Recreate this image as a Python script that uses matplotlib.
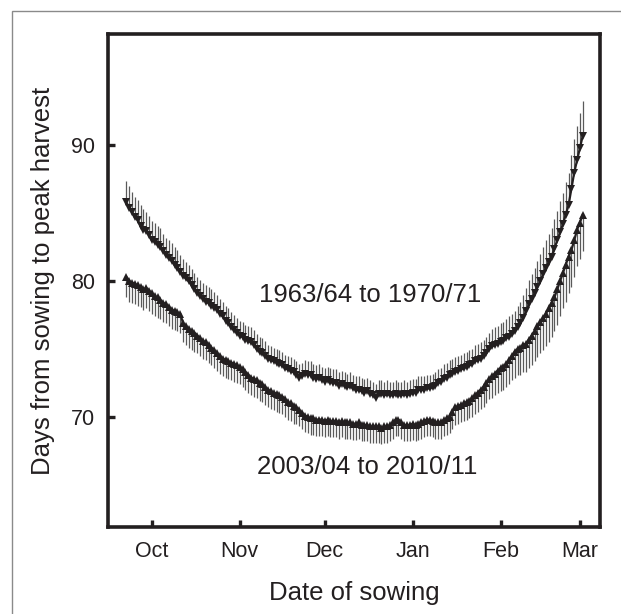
import numpy as np
import matplotlib
matplotlib.use("Agg")
import matplotlib.pyplot as plt
from matplotlib.patches import Rectangle

plt.rcParams['font.family'] = ['Liberation Sans', 'DejaVu Sans']

# sowing day, counted from 1 October (day -9 = 22 Sep ... day 152 = 2 Mar)
first_day = -9

# 1963/64 to 1970/71, daily means
old_days = [
    85.8, 85.4, 85.1, 84.7, 84.5, 84.1, 83.8, 83.7, 83.4, 83.0,
    82.9, 82.7, 82.5, 82.2, 81.9, 81.7, 81.5, 81.2, 81.0, 80.7,
    80.4, 80.2, 80.0, 79.7, 79.4, 79.1, 78.9, 78.7, 78.5, 78.4,
    78.2, 78.0, 77.9, 77.6, 77.4, 77.1, 76.9, 76.6, 76.4, 76.2,
    76.0, 75.9, 75.7, 75.6, 75.5, 75.3, 75.0, 74.8, 74.7, 74.5,
    74.3, 74.2, 74.1, 74.0, 73.9, 73.8, 73.6, 73.5, 73.4, 73.3,
    73.1, 72.9, 73.0, 73.2, 73.1, 73.1, 72.9, 72.8, 72.9, 72.7,
    72.6, 72.7, 72.6, 72.5, 72.5, 72.3, 72.4, 72.3, 72.2, 72.3,
    72.1, 72.0, 72.0, 71.9, 71.8, 71.9, 71.7, 71.6, 71.4, 71.7,
    71.7, 71.6, 71.7, 71.6, 71.6, 71.7, 71.6, 71.6, 71.7, 71.6,
    71.7, 71.8, 71.8, 72.0, 72.0, 72.0, 72.1, 72.1, 72.2, 72.3,
    72.5, 72.6, 72.8, 72.9, 73.1, 73.2, 73.3, 73.4, 73.5, 73.6,
    73.7, 73.8, 73.9, 74.1, 74.2, 74.3, 74.5, 74.7, 75.0, 75.2,
    75.3, 75.4, 75.5, 75.6, 75.8, 75.9, 76.1, 76.3, 76.6, 76.9,
    77.3, 77.8, 78.3, 78.7, 79.1, 79.6, 80.0, 80.5, 81.0, 81.4,
    81.8, 82.4, 83.0, 83.6, 84.2, 84.9, 85.6, 86.8, 88.0, 88.9,
    89.8, 90.7,
]
old_err = [
    1.6, 1.6, 1.5, 1.5, 1.5, 1.5, 1.5, 1.4, 1.4, 1.4,
    1.4, 1.4, 1.4, 1.3, 1.3, 1.3, 1.3, 1.3, 1.3, 1.2,
    1.2, 1.2, 1.2, 1.2, 1.2, 1.2, 1.2, 1.2, 1.2, 1.2,
    1.2, 1.2, 1.1, 1.1, 1.1, 1.1, 1.1, 1.1, 1.1, 1.1,
    1.1, 1.1, 1.1, 1.1, 1.1, 1.1, 1.1, 1.1, 1.1, 1.1,
    1.0, 1.0, 1.0, 1.0, 1.0, 1.0, 1.0, 1.0, 1.0, 1.0,
    1.0, 1.0, 1.0, 1.0, 1.0, 1.0, 1.0, 1.0, 1.0, 1.0,
    1.0, 1.0, 1.0, 1.0, 1.0, 1.0, 1.0, 1.0, 1.0, 1.0,
    1.0, 1.0, 1.0, 1.0, 1.0, 1.0, 1.0, 1.0, 1.0, 1.0,
    1.0, 1.0, 1.0, 1.0, 1.0, 1.0, 1.0, 1.0, 1.0, 1.0,
    1.0, 1.0, 1.0, 1.0, 1.0, 1.0, 1.0, 1.0, 1.0, 1.0,
    1.0, 1.0, 1.1, 1.1, 1.1, 1.1, 1.1, 1.1, 1.1, 1.1,
    1.1, 1.1, 1.1, 1.2, 1.2, 1.2, 1.2, 1.2, 1.2, 1.3,
    1.3, 1.3, 1.4, 1.4, 1.4, 1.5, 1.5, 1.5, 1.6, 1.6,
    1.7, 1.7, 1.8, 1.8, 1.9, 1.9, 2.0, 2.0, 2.0, 2.1,
    2.1, 2.2, 2.2, 2.3, 2.3, 2.4, 2.4, 2.5, 2.5, 2.5,
    2.6, 2.6,
]

# 2003/04 to 2010/11, daily means
new_days = [
    80.3, 80.0, 79.9, 79.8, 79.7, 79.6, 79.4, 79.5, 79.3, 79.1,
    78.9, 78.8, 78.6, 78.4, 78.3, 78.1, 77.9, 77.8, 77.7, 77.6,
    76.9, 76.7, 76.5, 76.3, 76.2, 76.0, 75.8, 75.6, 75.5, 75.3,
    75.1, 74.9, 74.7, 74.5, 74.3, 74.2, 74.1, 74.0, 73.9, 73.8,
    73.7, 73.5, 73.3, 73.1, 72.9, 72.8, 72.7, 72.5, 72.4, 72.2,
    72.0, 71.9, 71.8, 71.7, 71.6, 71.5, 71.3, 71.1, 71.0, 70.8,
    70.7, 70.5, 70.3, 70.1, 70.0, 69.9, 69.9, 69.8, 69.8, 69.8,
    69.7, 69.8, 69.7, 69.7, 69.7, 69.6, 69.7, 69.6, 69.6, 69.6,
    69.5, 69.5, 69.6, 69.4, 69.4, 69.4, 69.3, 69.3, 69.3, 69.3,
    69.2, 69.3, 69.3, 69.4, 69.6, 69.8, 69.8, 69.6, 69.4, 69.4,
    69.4, 69.5, 69.4, 69.5, 69.6, 69.7, 69.8, 69.8, 69.7, 69.6,
    69.6, 69.6, 69.8, 69.9, 70.0, 70.4, 70.7, 70.8, 70.9, 71.0,
    71.1, 71.2, 71.4, 71.6, 71.8, 72.0, 72.2, 72.5, 72.8, 73.0,
    73.2, 73.4, 73.6, 73.7, 73.9, 74.2, 74.5, 74.8, 75.0, 75.1,
    75.3, 75.4, 75.7, 76.0, 76.3, 76.7, 77.0, 77.3, 77.6, 78.0,
    78.4, 78.8, 79.4, 80.0, 80.6, 81.2, 81.8, 82.3, 83.0, 83.8,
    84.3, 84.9,
]
new_err = [
    1.5, 1.5, 1.5, 1.5, 1.5, 1.5, 1.5, 1.5, 1.5, 1.5,
    1.5, 1.5, 1.4, 1.4, 1.4, 1.4, 1.4, 1.4, 1.4, 1.4,
    1.4, 1.4, 1.4, 1.4, 1.4, 1.3, 1.3, 1.3, 1.3, 1.3,
    1.3, 1.3, 1.3, 1.3, 1.3, 1.3, 1.3, 1.3, 1.3, 1.3,
    1.3, 1.3, 1.3, 1.3, 1.3, 1.3, 1.3, 1.3, 1.3, 1.3,
    1.3, 1.3, 1.3, 1.3, 1.3, 1.3, 1.3, 1.3, 1.3, 1.3,
    1.2, 1.2, 1.2, 1.2, 1.2, 1.2, 1.2, 1.2, 1.2, 1.2,
    1.2, 1.2, 1.2, 1.2, 1.2, 1.2, 1.2, 1.2, 1.2, 1.2,
    1.2, 1.2, 1.2, 1.2, 1.2, 1.2, 1.2, 1.2, 1.2, 1.2,
    1.2, 1.2, 1.2, 1.2, 1.2, 1.2, 1.2, 1.2, 1.2, 1.2,
    1.2, 1.2, 1.2, 1.2, 1.2, 1.2, 1.2, 1.2, 1.2, 1.2,
    1.2, 1.2, 1.2, 1.2, 1.2, 1.3, 1.3, 1.3, 1.3, 1.3,
    1.3, 1.3, 1.4, 1.4, 1.4, 1.4, 1.5, 1.5, 1.5, 1.6,
    1.6, 1.6, 1.7, 1.7, 1.7, 1.8, 1.8, 1.9, 1.9, 2.0,
    2.0, 2.1, 2.1, 2.2, 2.2, 2.3, 2.3, 2.4, 2.4, 2.5,
    2.5, 2.5, 2.6, 2.6, 2.6, 2.7, 2.7, 2.7, 2.7, 2.7,
    2.7, 2.7,
]

month_ticks = [0, 31, 61, 92, 123, 151]
month_labels = ['Oct', 'Nov', 'Dec', 'Jan', 'Feb', 'Mar']

day = np.arange(first_day, first_day + len(old_days))
zeros = np.zeros(len(day))

fig = plt.figure(figsize=(6.21, 6.14), dpi=100)
ax = fig.add_axes([0.1739, 0.1417, 0.7923, 0.8029])

ink = '#231f20'
bar = '#5a5a5a'

# upper series: bars upward, lower series: bars downward
ax.errorbar(day, old_days, yerr=[zeros, np.array(old_err)], fmt='none',
            ecolor=bar, elinewidth=0.9, capsize=0, zorder=2)
ax.errorbar(day, new_days, yerr=[np.array(new_err), zeros], fmt='none',
            ecolor=bar, elinewidth=0.9, capsize=0, zorder=2)
ax.plot(day, old_days, color=ink, lw=1.6, marker='v', ms=6, mew=0, zorder=3)
ax.plot(day, new_days, color=ink, lw=1.6, marker='^', ms=6, mew=0, zorder=3)

ax.text(77, 79.0, '1963/64 to 1970/71', ha='center', va='center',
        fontsize=18.5, color=ink)
ax.text(76, 66.3, '2003/04 to 2010/11', ha='center', va='center',
        fontsize=18.5, color=ink)

ax.set_xlim(-15.5, 158.1)
ax.set_ylim(61.9, 98.2)
ax.set_xticks(month_ticks)
ax.set_xticklabels(month_labels)
ax.set_yticks([70, 80, 90])

for s in ax.spines.values():
    s.set_linewidth(2.6)
    s.set_color(ink)
ax.tick_params(direction='in', length=5, width=2.4, color=ink,
               labelsize=15.5, labelcolor=ink)
ax.tick_params(axis='x', pad=10)
ax.tick_params(axis='y', pad=9)

ax.set_xlabel('Date of sowing', fontsize=18.5, color=ink, labelpad=14)
ax.set_ylabel('Days from sowing to peak harvest', fontsize=18.5, color=ink,
              labelpad=12)

# thin grey frame round the figure (only left and top edges show)
fig.add_artist(Rectangle((12 / 621, -0.5), 1.5, 1.5 - 11 / 614,
                         transform=fig.transFigure, fill=False,
                         edgecolor='#8a8a8a', lw=1.0))

fig.savefig('out.png', dpi=100)
